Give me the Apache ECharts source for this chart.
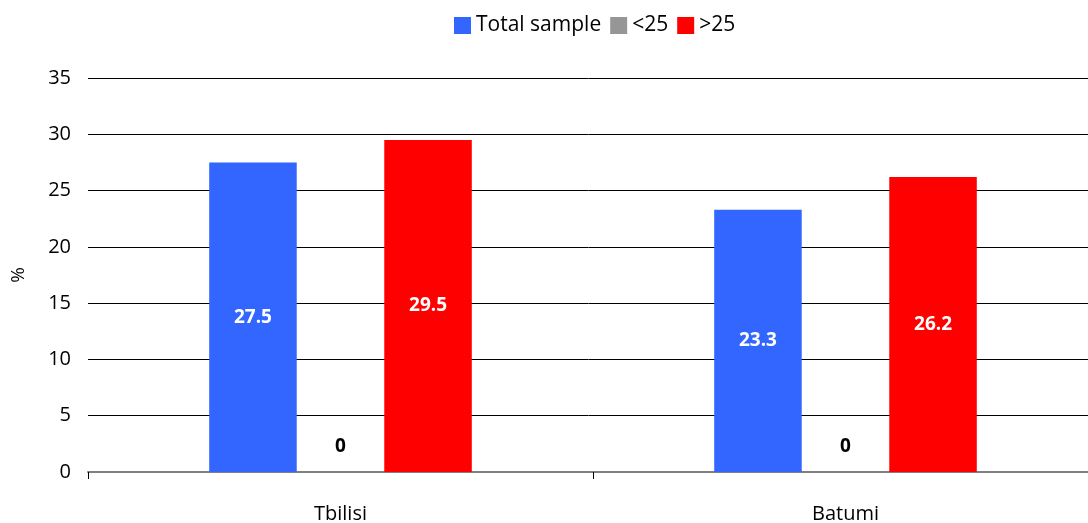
<!DOCTYPE html>
<html>
<head>
<meta charset="utf-8">
<script src="https://cdn.jsdelivr.net/npm/echarts@6/dist/echarts.min.js"></script>
<style>
  html, body { margin: 0; padding: 0; background: #fff; }
  #chart { width: 1088px; height: 523px; }
</style>
</head>
<body>
<div id="chart"></div>
<script>
// Cities and shares (%) per group
var categories = ['Tbilisi', 'Batumi'];
var totalSample = [27.5, 23.3];
var under25 = [0, 0];
var over25 = [29.5, 26.2];
var yTicks = { min: 0, max: 35, interval: 5 };

var FONT = '"Open Sans", "Noto Sans", sans-serif';

var insideLabel = {
  show: true,
  position: 'inside',
  color: '#ffffff',
  fontFamily: FONT,
  fontWeight: 'bold',
  fontSize: 19
};

var chart = echarts.init(document.getElementById('chart'), null, { renderer: 'canvas' });
chart.setOption({
  animation: false,
  textStyle: { fontFamily: FONT },
  legend: {
    top: 10,
    left: 449,
    itemWidth: 17,
    itemHeight: 17,
    itemGap: 9,
    icon: 'rect',
    textStyle: { fontFamily: FONT, fontSize: 21, color: '#000' },
    data: ['Total sample', '<25', '>25']
  },
  grid: {
    left: 88, right: -10, top: 78, bottom: 51,
    containLabel: false,
    outerBoundsMode: 'none'
  },
  xAxis: {
    type: 'category',
    data: categories,
    axisLine: { lineStyle: { color: '#808080', width: 2 } },
    axisTick: { show: true, length: 7, lineStyle: { color: '#000', width: 1 } },
    axisLabel: { color: '#000', fontFamily: FONT, fontSize: 20, margin: 32 }
  },
  yAxis: {
    type: 'value',
    min: yTicks.min,
    max: yTicks.max,
    interval: yTicks.interval,
    name: '%',
    nameLocation: 'middle',
    nameRotate: 90,
    nameGap: 60,
    nameTextStyle: { color: '#000', fontFamily: FONT, fontSize: 19 },
    axisLine: { show: false },
    axisTick: { show: false },
    axisLabel: { color: '#000', fontFamily: FONT, fontSize: 20, margin: 17 },
    splitLine: { lineStyle: { color: '#000', width: 1 } }
  },
  series: [
    {
      name: 'Total sample',
      type: 'bar',
      data: totalSample,
      barGap: '0%',
      barCategoryGap: '48%',
      itemStyle: { color: '#3366ff' },
      label: insideLabel
    },
    {
      name: '<25',
      type: 'bar',
      data: under25,
      itemStyle: { color: '#969696' },
      label: {
        show: true,
        position: 'top',
        distance: 16,
        color: '#000',
        fontFamily: FONT,
        fontWeight: 'bold',
        fontSize: 19
      }
    },
    {
      name: '>25',
      type: 'bar',
      data: over25,
      itemStyle: { color: '#ff0000' },
      label: insideLabel
    }
  ]
});
</script>
</body>
</html>
